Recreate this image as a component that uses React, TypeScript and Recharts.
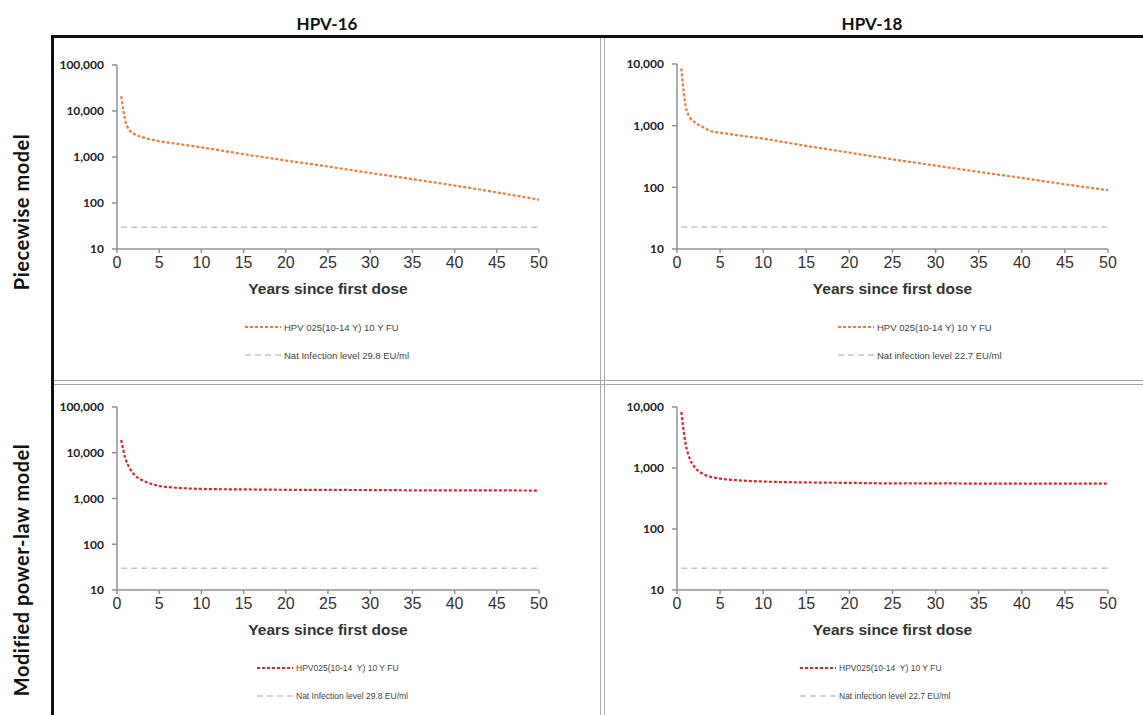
import React from "react";
import { LineChart, Line, XAxis, YAxis, Legend } from "recharts";

// years since first dose (shared x values for every curve)
const years = [0.5, 1, 1.5, 2, 3, 4, 5, 7, 10, 15, 20, 25, 30, 35, 40, 45, 50];

// predicted antibody levels (EU/ml)
const hpv16Piecewise = [21000, 6000, 3800, 3200, 2700, 2400, 2200, 1950, 1620, 1150, 840, 620, 450, 330, 240, 170, 118];
const hpv18Piecewise = [8500, 2100, 1350, 1150, 950, 810, 770, 700, 615, 470, 365, 285, 225, 178, 142, 112, 90];
const hpv16Power = [19000, 7500, 4600, 3400, 2500, 2100, 1880, 1720, 1620, 1580, 1550, 1540, 1530, 1510, 1500, 1500, 1490];
const hpv18Power = [8300, 2500, 1400, 1050, 800, 710, 670, 630, 600, 580, 570, 560, 560, 555, 555, 555, 555];

const natLevel16 = 29.8;
const natLevel18 = 22.7;

const xTicks = [0, 5, 10, 15, 20, 25, 30, 35, 40, 45, 50];
const yTicks16 = [10, 100, 1000, 10000, 100000];
const yTicks18 = [10, 100, 1000, 10000];

const columnHeaders = ["HPV-16", "HPV-18"];
const rowHeaders = ["Piecewise model", "Modified power-law model"];

const axisGray = "#8a9399";
const natGray = "#c4c4c4";

type PanelProps = {
  left: number;
  top: number;
  width: number;
  height: number;
  plotLeft: number;
  plotRight: number;
  plotTop: number;
  plotBottom: number;
  values: number[];
  nat: number;
  yTicks: number[];
  color: string;
  seriesName: string;
  natName: string;
  legendLeft: number;
  legendTop: number;
  legendFont: number;
};

function Panel(p: PanelProps) {
  const rows = years.map((y, i) => ({ year: y, value: p.values[i], nat: p.nat }));
  const dashes: Record<string, string> = { value: "3 2", nat: "6 4" };
  return (
    <div style={{ position: "absolute", left: p.left, top: p.top, width: p.width, height: p.height }}>
      <LineChart
        width={p.width}
        height={p.height}
        data={rows}
        margin={{ top: p.plotTop, right: p.width - p.plotRight, left: 0, bottom: p.height - p.plotBottom - 50 }}
      >
        <XAxis
          dataKey="year"
          type="number"
          domain={[0, 50]}
          ticks={xTicks}
          height={50}
          stroke={axisGray}
          strokeWidth={1.5}
          tickSize={4}
          tickMargin={4}
          tick={{ fill: "#333", fontSize: 16, fontFamily: "Liberation Sans, Arial, sans-serif" }}
          label={{
            value: "Years since first dose",
            position: "insideBottom",
            offset: 5,
            fill: "#333",
            fontSize: 15.5,
            fontWeight: 700,
            fontFamily: "Liberation Sans, Arial, sans-serif",
          }}
        />
        <YAxis
          type="number"
          scale="log"
          domain={[10, p.yTicks[p.yTicks.length - 1]]}
          ticks={p.yTicks}
          allowDataOverflow
          width={p.plotLeft}
          stroke={axisGray}
          strokeWidth={1.5}
          tickSize={5}
          tickMargin={8}
          tick={{ fill: "#222", fontSize: 12, fontWeight: 700, fontFamily: "Lato, sans-serif" }}
          tickFormatter={(v: number) => v.toLocaleString("en-US")}
        />
        <Legend
          layout="vertical"
          align="center"
          verticalAlign="middle"
          wrapperStyle={{ left: p.legendLeft, top: p.legendTop, width: 260 }}
          content={(props: any) => (
            <div>
              {(props.payload || []).map((entry: any) => (
                <div key={entry.value} style={{ display: "flex", alignItems: "center", height: 28 }}>
                  <svg width={36} height={6}>
                    <line
                      x1={0}
                      y1={3}
                      x2={36}
                      y2={3}
                      stroke={entry.color}
                      strokeWidth={entry.dataKey === "nat" ? 1.3 : 2}
                      strokeDasharray={dashes[entry.dataKey]}
                    />
                  </svg>
                  <span
                    style={{
                      marginLeft: 3,
                      fontSize: p.legendFont,
                      color: "#444",
                      fontFamily: "Liberation Sans, Arial, sans-serif",
                      whiteSpace: "pre",
                    }}
                  >
                    {entry.value}
                  </span>
                </div>
              ))}
            </div>
          )}
        />
        <Line
          dataKey="value"
          name={p.seriesName}
          type="monotone"
          stroke={p.color}
          strokeWidth={2.2}
          strokeDasharray={dashes.value}
          dot={false}
          isAnimationActive={false}
        />
        <Line
          dataKey="nat"
          name={p.natName}
          type="linear"
          stroke={natGray}
          strokeWidth={1.5}
          strokeDasharray={dashes.nat}
          dot={false}
          isAnimationActive={false}
        />
      </LineChart>
    </div>
  );
}

const rowLabelStyle: React.CSSProperties = {
  position: "absolute",
  transform: "translate(-50%, -50%) rotate(-90deg)",
  whiteSpace: "nowrap",
  fontFamily: "Lato, sans-serif",
  fontWeight: 700,
  fontSize: 20,
  letterSpacing: 0.5,
  color: "#111",
};

export default function App() {
  const orange = "#ec7a3a";
  const red = "#e0232b";
  return (
    <div style={{ position: "absolute", left: 0, top: 0, width: 1143, height: 715, background: "#fff", overflow: "hidden" }}>
      {/* column headers */}
      <div style={{ position: "absolute", left: 227, top: 13, width: 200, textAlign: "center", fontFamily: "Lato, sans-serif", fontWeight: 700, fontSize: 17, color: "#111" }}>
        {columnHeaders[0]}
      </div>
      <div style={{ position: "absolute", left: 772, top: 13, width: 200, textAlign: "center", fontFamily: "Lato, sans-serif", fontWeight: 700, fontSize: 17, color: "#111" }}>
        {columnHeaders[1]}
      </div>
      {/* row headers */}
      <div style={{ position: "absolute", left: 21, top: 212, width: 0, height: 0 }}>
        <div style={rowLabelStyle}>{rowHeaders[0]}</div>
      </div>
      <div style={{ position: "absolute", left: 21, top: 570, width: 0, height: 0 }}>
        <div style={rowLabelStyle}>{rowHeaders[1]}</div>
      </div>

      {/* frame */}
      <div style={{ position: "absolute", left: 51, top: 35, width: 1092, height: 3, background: "#111" }} />
      <div style={{ position: "absolute", left: 51, top: 35, width: 3, height: 680, background: "#111" }} />
      <div style={{ position: "absolute", left: 600, top: 38, width: 1, height: 677, background: "#a8a8a8" }} />
      <div style={{ position: "absolute", left: 604, top: 38, width: 1, height: 677, background: "#a8a8a8" }} />
      <div style={{ position: "absolute", left: 54, top: 380, width: 1089, height: 1, background: "#a8a8a8" }} />
      <div style={{ position: "absolute", left: 54, top: 384, width: 1089, height: 1, background: "#a8a8a8" }} />

      <Panel left={53} top={38} width={548} height={343} plotLeft={64} plotRight={486} plotTop={27} plotBottom={211}
        values={hpv16Piecewise} nat={natLevel16} yTicks={yTicks16} color={orange}
        seriesName="HPV 025(10-14 Y) 10 Y FU" natName="Nat Infection level 29.8 EU/ml"
        legendLeft={192} legendTop={275} legendFont={9.5} />
      <Panel left={604} top={38} width={539} height={343} plotLeft={73} plotRight={504} plotTop={26} plotBottom={211}
        values={hpv18Piecewise} nat={natLevel18} yTicks={yTicks18} color={orange}
        seriesName="HPV 025(10-14 Y) 10 Y FU" natName="Nat infection level 22.7 EU/ml"
        legendLeft={234} legendTop={275} legendFont={9.5} />
      <Panel left={53} top={384} width={548} height={331} plotLeft={64} plotRight={486} plotTop={23} plotBottom={206}
        values={hpv16Power} nat={natLevel16} yTicks={yTicks16} color={red}
        seriesName="HPV025(10-14  Y) 10 Y FU" natName="Nat Infection level 29.8 EU/ml"
        legendLeft={204} legendTop={270} legendFont={8.5} />
      <Panel left={604} top={384} width={539} height={331} plotLeft={73} plotRight={504} plotTop={23} plotBottom={206}
        values={hpv18Power} nat={natLevel18} yTicks={yTicks18} color={red}
        seriesName="HPV025(10-14  Y) 10 Y FU" natName="Nat infection level 22.7 EU/ml"
        legendLeft={196} legendTop={270} legendFont={8.5} />
    </div>
  );
}
